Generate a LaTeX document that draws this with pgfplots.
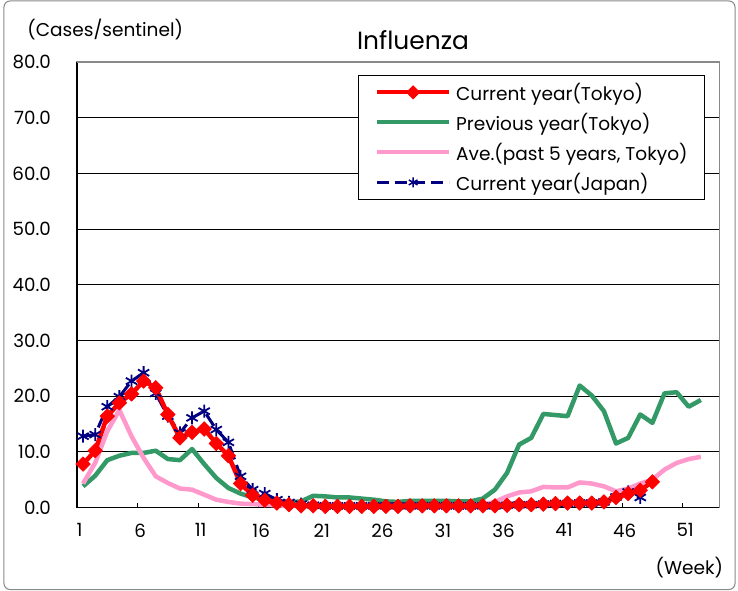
\documentclass[border=0pt]{standalone}
\usepackage{fontspec}
\setmainfont{Poppins}
\usepackage{pgfplots}
\pgfplotsset{compat=1.18}
\definecolor{cred}{HTML}{FF0000}
\definecolor{cgreen}{HTML}{339966}
\definecolor{cpink}{HTML}{FF99CC}
\definecolor{cnavy}{HTML}{000080}
\definecolor{cframe}{HTML}{898989}
\begin{document}
\begin{tikzpicture}
\path[use as bounding box] (-77bp,-83.5bp) rectangle (661bp,507.5bp);
\draw[cframe, line width=1bp, rounded corners=6bp] (-73bp,-82bp) rectangle (658bp,506.5bp);
\begin{axis}[
  at={(0,0)}, anchor=south west, scale only axis,
  width=642bp, height=445.5bp,
  xmin=0.5, xmax=53.5, ymin=0, ymax=80,
  clip=false,
  xtick={0.5,5.5,...,50.5},
  xticklabels={1,6,11,16,21,26,31,36,41,46,51},
  ytick={0,10,...,80},
  ymajorgrids, grid style={black, line width=0.8bp},
  axis line style={cframe, line width=1bp},
  xtick pos=bottom, ytick pos=left,
  xtick align=inside,
  major tick length=5bp,
  xtick style={black, line width=0.8bp},
  ytick style={draw=none},
  /pgf/number format/assume math mode=true,
  yticklabel={\pgfmathprintnumber[fixed,fixed zerofill,precision=1]{\tick}},
  yticklabel shift=26bp,
  xticklabel shift=16bp,
  yticklabel style={anchor=east, inner sep=0pt, font=\fontsize{18.3}{21}\selectfont},
  xticklabel style={anchor=north, inner sep=0pt, xshift=2.5bp, font=\fontsize{18.3}{21}\selectfont},
  legend style={
    at={(rel axis cs:0.9782,0.9708)}, anchor=north east,
    draw=black, line width=0.8bp, fill=white,
    inner xsep=17bp, inner ysep=2bp,
    row sep=0pt, column sep=5bp,
    nodes={inner sep=0pt, minimum height=30bp},
    font=\fontsize{18.6}{21}\selectfont,
  },
  legend cell align=left,
  legend image code/.code={\draw[mark repeat=2, mark phase=2] plot coordinates {(0bp,0bp) (36bp,0bp) (72bp,0bp)};},
]
\draw[black, line width=1.2bp] (rel axis cs:0,1) -- (rel axis cs:0,0) -- (rel axis cs:1,0);
\draw[cframe, line width=1.2bp] (rel axis cs:0,1) -- (rel axis cs:1,1);

\addlegendimage{cred, line width=4bp, mark=square*, mark size=3bp, mark options={rotate=45, fill=cred, draw=cred}}
\addlegendentry{Current year(Tokyo)}
\addlegendimage{cgreen, line width=4bp}
\addlegendentry{Previous year(Tokyo)}
\addlegendimage{cpink, line width=4bp}
\addlegendentry{Ave.(past 5 years, Tokyo)}
\addlegendimage{cnavy, line width=3bp, dash pattern=on 12bp off 6bp, mark=asterisk, mark size=5bp, mark options={solid, line width=1.5bp}}
\addlegendentry{Current year(Japan)}

% Previous year (Tokyo)
\addplot[forget plot, cgreen, line width=4.5bp, line join=round] coordinates {
(1,3.8) (2,5.7) (3,8.5) (4,9.3) (5,9.8) (6,9.8) (7,10.2) (8,8.7) (9,8.5) (10,10.5)
(11,7.8) (12,5.3) (13,3.5) (14,2.5) (15,1.8) (16,1.4) (17,1.1) (18,0.9) (19,1.1) (20,2.1)
(21,2.0) (22,1.8) (23,1.8) (24,1.6) (25,1.4) (26,1.1) (27,1.0) (28,1.2) (29,1.2) (30,1.2)
(31,1.2) (32,1.1) (33,1.1) (34,1.6) (35,3.2) (36,6.2) (37,11.3) (38,12.5) (39,16.8) (40,16.6)
(41,16.4) (42,21.9) (43,20.1) (44,17.3) (45,11.5) (46,12.5) (47,16.7) (48,15.2) (49,20.5) (50,20.7)
(51,18.1) (52,19.3)
};
% Average past 5 years (Tokyo)
\addplot[forget plot, cpink, line width=4.5bp, line join=round] coordinates {
(1,4.3) (2,8.0) (3,13.7) (4,17.5) (5,12.8) (6,8.9) (7,5.6) (8,4.4) (9,3.4) (10,3.2)
(11,2.3) (12,1.4) (13,1.0) (14,0.7) (15,0.6) (16,0.5) (17,0.4) (18,0.3) (19,0.3) (20,0.3)
(21,0.3) (22,0.3) (23,0.3) (24,0.3) (25,0.3) (26,0.3) (27,0.3) (28,0.3) (29,0.3) (30,0.3)
(31,0.3) (32,0.3) (33,0.3) (34,0.5) (35,1.0) (36,2.0) (37,2.7) (38,2.9) (39,3.7) (40,3.6)
(41,3.6) (42,4.5) (43,4.3) (44,3.8) (45,2.9) (46,3.4) (47,4.3) (48,5.0) (49,6.8) (50,8.0)
(51,8.7) (52,9.1)
};
% Current year (Japan)
\addplot[forget plot, cnavy, line width=3bp, dash pattern=on 14bp off 6bp, mark=asterisk, mark size=6.5bp, mark options={solid, line width=1.8bp}] coordinates {
(1,12.8) (2,13.1) (3,18.1) (4,19.9) (5,22.7) (6,24.2) (7,20.5) (8,16.4) (9,13.4) (10,16.1)
(11,17.3) (12,14.0) (13,11.7) (14,5.6) (15,3.2) (16,2.5) (17,1.4) (18,0.9) (19,0.6) (20,0.4)
(21,0.3) (22,0.3) (23,0.3) (24,0.3) (25,0.3) (26,0.3) (27,0.3) (28,0.3) (29,0.3) (30,0.3)
(31,0.3) (32,0.3) (33,0.3) (34,0.3) (35,0.3) (36,0.4) (37,0.5) (38,0.5) (39,0.6) (40,0.7)
(41,0.7) (42,0.8) (43,0.8) (44,1.0) (45,1.9) (46,2.8) (47,1.8)
};
% Current year (Tokyo)
\addplot[forget plot, cred, line width=4.5bp, line join=round, mark=square*, mark size=5.2bp, mark options={rotate=45, fill=cred, draw=cred, line width=0.5bp}] coordinates {
(1,7.8) (2,10.2) (3,16.4) (4,18.8) (5,20.4) (6,22.7) (7,21.5) (8,16.7) (9,12.5) (10,13.5)
(11,14.1) (12,11.5) (13,9.3) (14,4.3) (15,2.2) (16,1.3) (17,0.8) (18,0.5) (19,0.3) (20,0.3)
(21,0.2) (22,0.2) (23,0.2) (24,0.2) (25,0.2) (26,0.2) (27,0.2) (28,0.3) (29,0.3) (30,0.3)
(31,0.3) (32,0.3) (33,0.3) (34,0.3) (35,0.3) (36,0.4) (37,0.5) (38,0.5) (39,0.6) (40,0.7)
(41,0.8) (42,0.8) (43,0.8) (44,1.0) (45,1.8) (46,2.5) (47,3.1) (48,4.6)
};
\end{axis}
\node[anchor=west, inner sep=0pt, font=\fontsize{18.6}{21}\selectfont] at (-49.7bp,477.5bp) {(Cases/sentinel)};
\node[inner sep=0pt, font=\fontsize{25}{29}\selectfont] at (336bp,467.5bp) {Influenza};
\node[anchor=east, inner sep=0pt, font=\fontsize{18.6}{21}\selectfont] at (646.3bp,-60.5bp) {(Week)};
\end{tikzpicture}
\end{document}
